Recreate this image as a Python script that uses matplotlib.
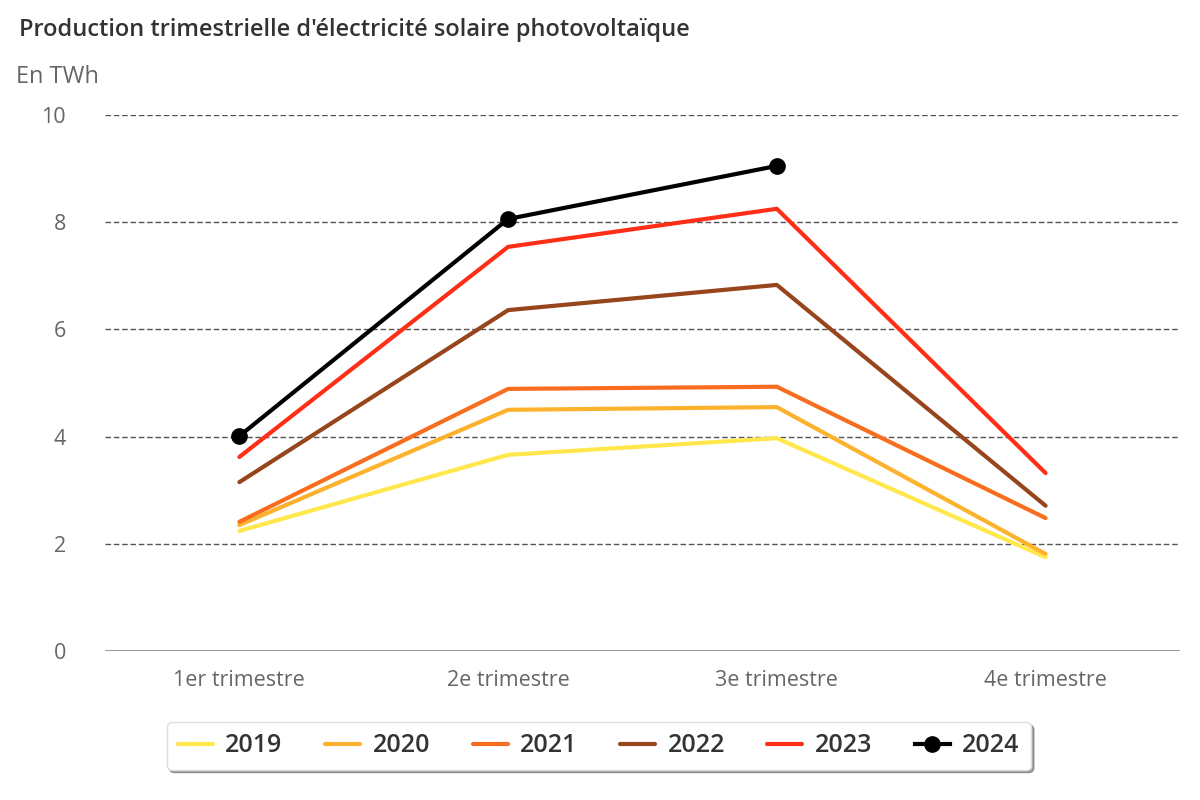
import matplotlib.pyplot as plt

plt.rcParams['font.family'] = ['Open Sans', 'DejaVu Sans']

quarters = ['1er trimestre', '2e trimestre', '3e trimestre', '4e trimestre']
years = ['2019', '2020', '2021', '2022', '2023', '2024']
colors = ['#FFE74C', '#FDB22E', '#F86E1E', '#96451C', '#FF2E17', '#000000']

v2019 = [2.24, 3.66, 3.97, 1.75]
v2020 = [2.35, 4.50, 4.55, 1.81]
v2021 = [2.41, 4.89, 4.93, 2.48]
v2022 = [3.15, 6.36, 6.83, 2.71]
v2023 = [3.62, 7.54, 8.25, 3.32]
v2024 = [4.01, 8.06, 9.05]

series = [v2019, v2020, v2021, v2022, v2023, v2024]

fig = plt.figure(figsize=(12, 8), dpi=100)
ax = fig.add_axes([0.0875, 0.18625, 0.8958, 0.67])

for yr, vals, c in zip(years, series, colors):
    x = list(range(len(vals)))
    if yr == '2024':
        ax.plot(x, vals, color=c, lw=3, marker='o', ms=11, label=yr, zorder=5)
    else:
        ax.plot(x, vals, color=c, lw=3, label=yr, solid_capstyle='round', zorder=3)

ax.set_xlim(-0.5, 3.5)
ax.set_ylim(0, 10)
ax.set_xticks(range(4))
ax.set_xticklabels(quarters)
ax.set_yticks([0, 2, 4, 6, 8, 10])
ax.tick_params(axis='both', length=0, labelsize=15.5, colors='#666666')
ax.tick_params(axis='x', pad=14)
ax.tick_params(axis='y', pad=28)

for y in [2, 4, 6, 8, 10]:
    ax.axhline(y, color='#555555', lw=1, ls=(0, (4, 2)), zorder=1)
ax.axhline(0, color='#888888', lw=1.2, zorder=1)

for s in ax.spines.values():
    s.set_visible(False)

fig.text(0.016, 0.962, "Production trimestrielle d'électricité solaire photovoltaïque",
         fontsize=17, fontweight='semibold', color='#333333', va='center')
fig.text(0.013, 0.904, 'En TWh', fontsize=17, color='#666666', va='center')

leg = fig.legend(loc='center', bbox_to_anchor=(0.499, 0.0675), ncol=6, frameon=True,
                 fancybox=True, shadow=True, fontsize=18, handlelength=1.4,
                 columnspacing=1.7, borderpad=0.45, handletextpad=0.5)
for t in leg.get_texts():
    t.set_fontweight('semibold')
    t.set_color('#333333')
leg.get_frame().set_edgecolor('#dddddd')

fig.savefig('out.png', dpi=100)
